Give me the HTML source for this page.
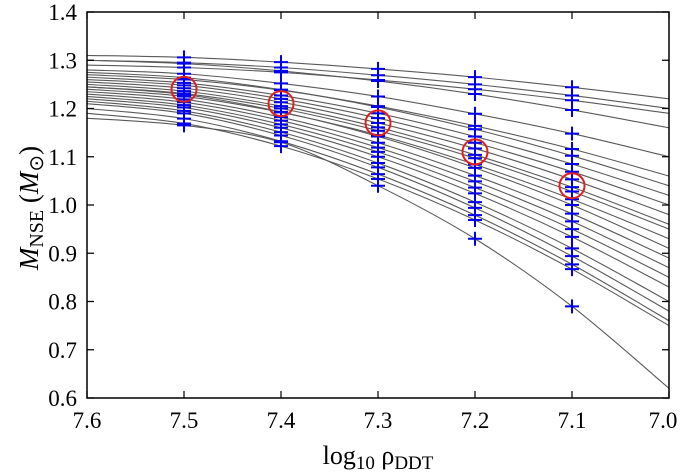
<!DOCTYPE html>
<html><head><meta charset="utf-8"><style>
body{margin:0;background:#fff}
svg{display:block;font-family:"Liberation Serif",serif}
</style></head><body>
<svg id="c" width="680" height="475"></svg>
<script>
const xTicks=[7.6,7.5,7.4,7.3,7.2,7.1,7.0];
const yTicks=[0.6,0.7,0.8,0.9,1.0,1.1,1.2,1.3,1.4];
const meanX=[7.5,7.4,7.3,7.2,7.1];
const meanY=[1.24,1.21,1.17,1.11,1.04];
const curves=[
[1.31,1.306,1.296,1.282,1.265,1.244,1.22],
[1.30,1.295,1.285,1.269,1.25,1.227,1.20],
[1.29,1.285,1.275,1.259,1.24,1.217,1.19],
[1.30,1.293,1.278,1.257,1.23,1.197,1.16],
[1.28,1.272,1.252,1.225,1.189,1.148,1.10],
[1.27,1.26,1.238,1.205,1.164,1.116,1.06],
[1.275,1.264,1.239,1.203,1.157,1.102,1.04],
[1.265,1.253,1.227,1.19,1.142,1.085,1.02],
[1.26,1.248,1.22,1.18,1.129,1.069,1.00],
[1.255,1.242,1.213,1.17,1.117,1.053,0.98],
[1.25,1.236,1.205,1.161,1.104,1.037,0.96],
[1.245,1.231,1.2,1.154,1.097,1.028,0.95],
[1.24,1.225,1.192,1.145,1.084,1.012,0.93],
[1.245,1.229,1.193,1.142,1.077,1.0,0.91],
[1.235,1.219,1.182,1.129,1.061,0.982,0.89],
[1.23,1.213,1.175,1.119,1.049,0.966,0.87],
[1.225,1.207,1.167,1.11,1.036,0.95,0.85],
[1.22,1.202,1.16,1.1,1.024,0.934,0.83],
[1.215,1.195,1.151,1.087,1.006,0.91,0.80],
[1.21,1.19,1.144,1.078,0.994,0.894,0.78],
[1.2,1.179,1.132,1.064,0.979,0.877,0.76],
[1.19,1.169,1.122,1.054,0.969,0.867,0.75],
[1.18,1.165,1.13,1.04,0.93,0.79,0.62]
];
const L=87,R=669,T=12,B=398;
const sx=v=>L+(7.6-v)/0.6*(R-L);
const sy=v=>B-(v-0.6)/0.8*(B-T);
const svg=document.getElementById('c');
const NS='http://www.w3.org/2000/svg';
function mk(t,a,p){const e=document.createElementNS(NS,t);for(const k in a)e.setAttribute(k,a[k]);(p||svg).appendChild(e);return e;}
const gc=mk('g',{});


curves.forEach((c,i)=>{
  const pts=c.map((v,j)=>[sx(xTicks[j]),sy(v)]);
  let d='M'+pts[0].join(',');
  for(let j=0;j<pts.length-1;j++){
    const p0=pts[Math.max(0,j-1)],p1=pts[j],p2=pts[j+1],p3=pts[Math.min(pts.length-1,j+2)];
    const c1=[p1[0]+(p2[0]-p0[0])/6,p1[1]+(p2[1]-p0[1])/6];
    const c2=[p2[0]-(p3[0]-p1[0])/6,p2[1]-(p3[1]-p1[1])/6];
    d+=' C'+c1.join(',')+' '+c2.join(',')+' '+p2.join(',');
  }
  const p=mk('path',{d:d,fill:'none',stroke:'#5a5a5a','stroke-width':1.1},gc);
  
  
});
const gm=mk('g',{});


curves.forEach(c=>{
  for(let j=1;j<=5;j++){
    const x=sx(xTicks[j]),y=sy(c[j]);
    const m=mk('path',{d:`M${x-7},${y}H${x+7}M${x},${y-7}V${y+7}`,stroke:'#0000ee','stroke-width':2},gm);
    
    
  }
});
meanX.forEach((x,i)=>{
  const e=mk('circle',{cx:sx(x),cy:sy(meanY[i]),r:12.5,fill:'none',stroke:'#e02020','stroke-width':2});
  
  
});
const f=mk('rect',{x:L,y:T,width:R-L,height:B-T,fill:'none',stroke:'#000','stroke-width':1.5});


xTicks.forEach((v,i)=>{
  const x=sx(v);
  mk('path',{d:`M${x},${B}v-7M${x},${T}v7`,stroke:'#000','stroke-width':1.2});
  const t=mk('text',{x:i===6?x-6:x,y:B+30,'text-anchor':'middle','font-size':23});
  t.textContent=v.toFixed(1);
  
  
});
yTicks.forEach(v=>{
  const y=sy(v);
  mk('path',{d:`M${L},${y}h7M${R},${y}h-7`,stroke:'#000','stroke-width':1.2});
  const t=mk('text',{x:L-10,y:y+8,'text-anchor':'end','font-size':23});
  t.textContent=v.toFixed(1);
  
  
});
const xt=mk('text',{x:378,y:464,'text-anchor':'middle','font-size':26});
xt.innerHTML='log<tspan font-size="19" dy="5">10</tspan><tspan dy="-5"> ρ</tspan><tspan font-size="19" dy="5">DDT</tspan>';


const yt=mk('text',{x:0,y:0,'text-anchor':'middle','font-size':27,transform:'translate(38,208) rotate(-90)'});
yt.innerHTML='<tspan font-style="italic">M</tspan><tspan font-size="20" dy="5">NSE</tspan><tspan dy="-5"> (</tspan><tspan font-style="italic">M</tspan><tspan font-size="20" dy="5">⊙</tspan><tspan dy="-5">)</tspan>';


</script>
</body></html>
